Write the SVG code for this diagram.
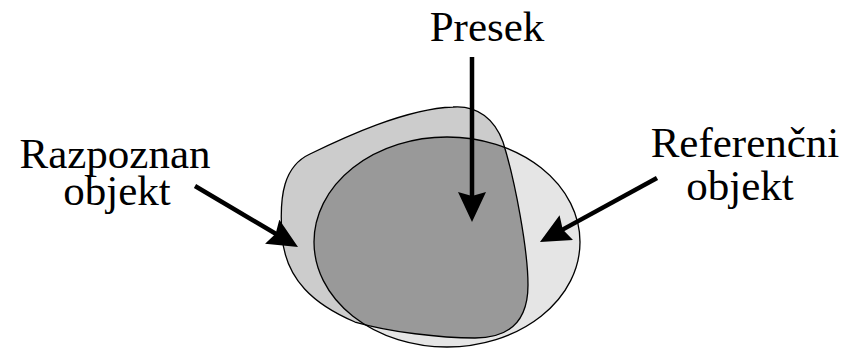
<svg xmlns="http://www.w3.org/2000/svg" width="855" height="348" viewBox="0 0 855 348">
<style>
.lbl{font-family:"Liberation Serif","Times New Roman",serif;font-size:43px;fill:#000;text-anchor:middle}
.outline{fill:none;stroke:#000;stroke-width:1.3}
.arrow{stroke:#000;stroke-width:4.5;fill:none;marker-end:url(#head)}
</style>
<defs>
<marker id="head" markerUnits="userSpaceOnUse" viewBox="0 0 30 28" refX="10" refY="14" markerWidth="30" markerHeight="28" orient="auto">
<path d="M0,0 L30,14 L0,28 L4,14 z" fill="#000"/>
</marker>
<path id="blobShape" d="M453,107 C478,105 495,120 503,142 C515,180 528,250 528,285 C528,315 515,338 475,338 C440,338 390,332 355,322 C315,305 285,280 282,235 C279,195 284,166 310,154 C345,137 405,109 453,107 Z"/>
<ellipse id="refShape" cx="447" cy="242" rx="133" ry="105"/>
<clipPath id="blobClip"><use href="#blobShape"/></clipPath>
</defs>
<rect width="855" height="348" fill="#fff"/>
<g id="referencni">
<use href="#refShape" fill="#e5e5e5"/>
</g>
<g id="razpoznan">
<use href="#blobShape" fill="#cccccc"/>
</g>
<g id="presek">
<use href="#refShape" fill="#999999" clip-path="url(#blobClip)"/>
</g>
<g id="outlines">
<use href="#refShape" class="outline"/>
<use href="#blobShape" class="outline"/>
</g>
<g id="labels">
<text class="lbl" x="487" y="41">Presek</text>
<text class="lbl" x="115" y="168">Razpoznan</text>
<text class="lbl" x="117" y="205">objekt</text>
<text class="lbl" x="745" y="157">Referenčni</text>
<text class="lbl" x="740" y="200">objekt</text>
</g>
<g id="connectors">
<line class="arrow" x1="472" y1="57" x2="472" y2="202"/>
<line class="arrow" x1="195" y1="186" x2="280.8" y2="236.8"/>
<line class="arrow" x1="657" y1="178" x2="557.5" y2="232.4"/>
</g>
</svg>
